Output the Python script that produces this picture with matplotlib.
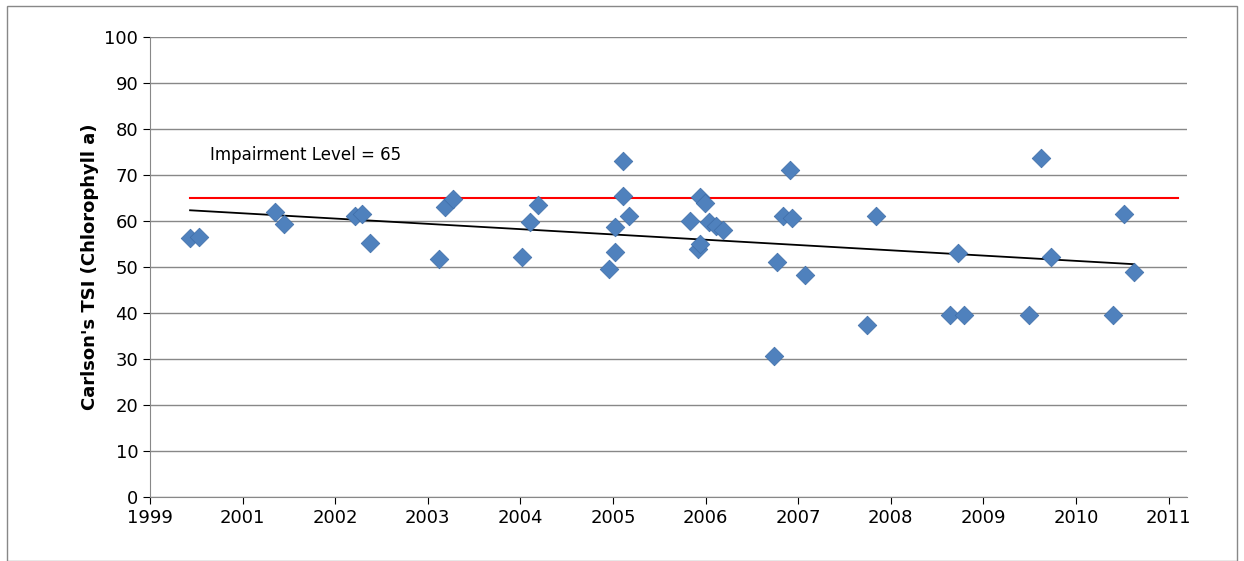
import matplotlib.pyplot as plt
import numpy as np

tick_labels = ["1999","2001","2002","2003","2004","2005","2006","2007","2008","2009","2010","2011"]
px = [190,199,275,284,355,362,370,439,445,453,522,530,538,609,615,615,623,623,629,689,697,699,699,704,708,715,722,773,776,782,789,791,804,866,875,949,957,963,1028,1040,1050,1112,1123,1133]
tsi = [56.3,56.5,62,59.3,61,61.5,55.3,51.8,63,64.8,52.2,59.7,63.5,49.6,58.8,53.2,73,65.5,61,60.1,54,55,65.2,64,59.7,59,58,30.6,51,61.2,71.2,60.7,48.2,37.4,61,39.6,53.1,39.6,39.6,73.8,52.2,39.6,61.6,49]
x = (np.array(px) - 150) / 92.5
y = np.array(tsi)
impairment = 65

fig = plt.figure(figsize=(12.44, 5.61), dpi=100)
ax = fig.add_axes([0.1206, 0.114, 0.8336, 0.82])
ax.set_xlim(0, 11.2)
ax.set_ylim(0, 100)
ax.set_yticks(range(0, 101, 10))
ax.set_xticks(range(12))
ax.set_xticklabels(tick_labels)
ax.tick_params(labelsize=13, direction='out', length=5)
ax.grid(axis='y', color='#888888', lw=1)
ax.set_axisbelow(True)
for s in ['top', 'right']:
    ax.spines[s].set_visible(False)
for s in ['left', 'bottom']:
    ax.spines[s].set_color('#888888')

ax.plot([0.43, 11.1], [impairment]*2, color='red', lw=1.5)
m, b = np.polyfit(x, y, 1)
xs = np.array([x.min(), x.max()])
ax.plot(xs, m*xs+b, color='black', lw=1.3)
ax.scatter(x, y, marker='D', s=90, color='#4F81BD', edgecolor='#3E6DA8', lw=0.5, zorder=3)
ax.text(0.65, 73.3, "Impairment Level = " + str(impairment), fontsize=12)
ax.set_ylabel("Carlson's TSI (Chlorophyll a)", fontsize=13, fontweight='bold')

fig.patches.append(plt.Rectangle((0.006, 0.0), 0.988, 0.99, transform=fig.transFigure, fill=False, ec='#888888', lw=1))
fig.savefig("out.png", dpi=100)
